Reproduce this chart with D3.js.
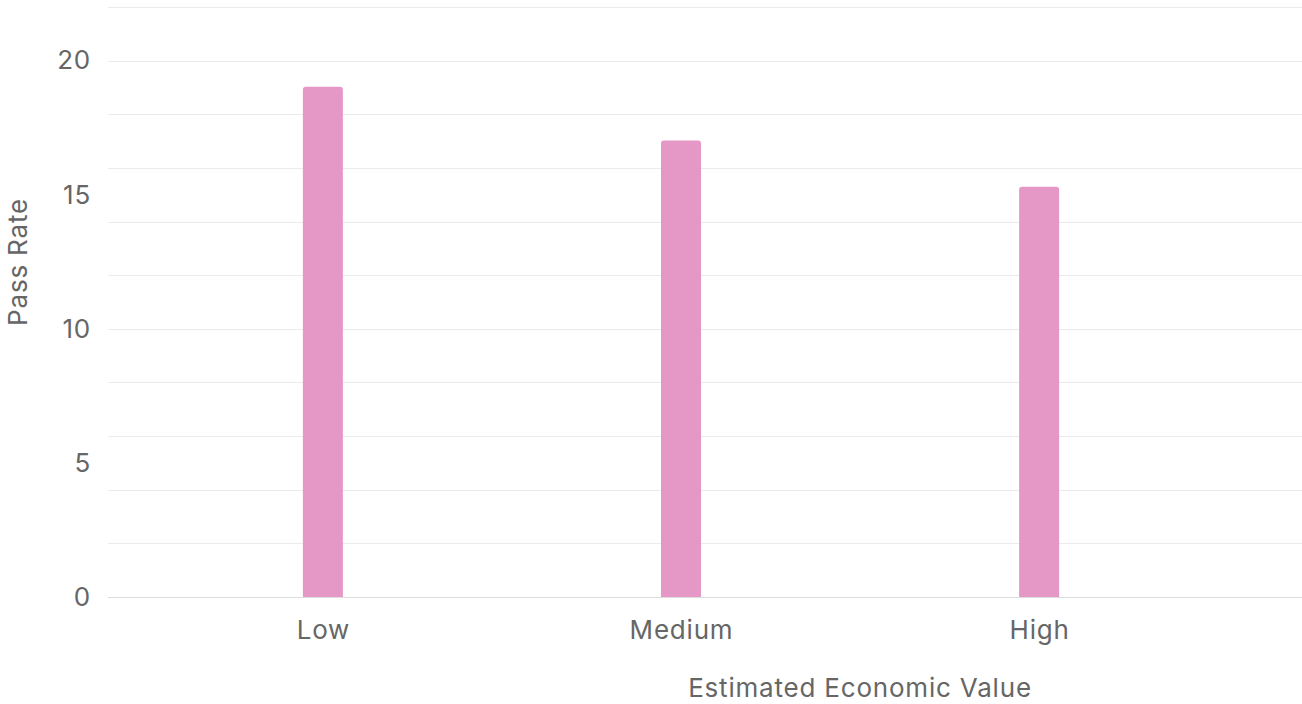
<!DOCTYPE html>
<html>
<head>
<meta charset="utf-8">
<script src="https://cdn.jsdelivr.net/npm/d3@7"></script>
<style>
  html, body { margin: 0; padding: 0; background: #fff; }
  svg { display: block; font-family: Inter, "Noto Sans", sans-serif; }
</style>
</head>
<body>
<svg id="chart" width="1302" height="704"></svg>
<script>
const categories = ["Low", "Medium", "High"];
const passRate = [19.03, 17.02, 15.3];
const yTickLabels = [0, 5, 10, 15, 20];
const yGridValues = [0, 2, 4, 6, 8, 10, 12, 14, 16, 18, 20, 22];
const xTitle = "Estimated Economic Value";
const yTitle = "Pass Rate";

const svg = d3.select("#chart");
const plotLeft = 108, plotRight = 1302, plotTop = 7, plotBottom = 597;

const y = d3.scaleLinear().domain([0, 22]).range([plotBottom, plotTop]);
const x = d3.scalePoint().domain(categories).range([plotLeft, 1254]).padding(0.6);
const barW = 40;
const textColor = "#666";
const fontSize = "26px";
const ls = "0.8px";

// gridlines
svg.append("g").selectAll("line")
  .data(yGridValues.filter(v => v !== 0))
  .join("line")
  .attr("x1", plotLeft).attr("x2", plotRight)
  .attr("y1", d => Math.round(y(d)) + 0.5).attr("y2", d => Math.round(y(d)) + 0.5)
  .attr("stroke", "#ebebeb").attr("stroke-width", 1);

// y axis labels
const yAxis = d3.axisLeft(y).tickValues(yTickLabels).tickSize(0).tickPadding(17);
const gy = svg.append("g").attr("transform", `translate(${plotLeft},0)`).call(yAxis);
gy.select(".domain").remove();
gy.selectAll("text").attr("fill", textColor).style("font-size", fontSize)
  .style("letter-spacing", ls).style("font-family", "Inter, sans-serif");

// bars with rounded top corners
const r = 3;
function barPath(cx, v) {
  const x0 = cx - barW / 2, x1 = cx + barW / 2, y0 = y(v), yb = y(0);
  return `M${x0},${yb}L${x0},${y0 + r}Q${x0},${y0} ${x0 + r},${y0}L${x1 - r},${y0}Q${x1},${y0} ${x1},${y0 + r}L${x1},${yb}Z`;
}
svg.append("g").selectAll("path")
  .data(categories.map((c, i) => ({ c, v: passRate[i] })))
  .join("path")
  .attr("d", d => barPath(x(d.c), d.v))
  .attr("fill", "#e597c6");

// zero line
svg.append("line")
  .attr("x1", plotLeft).attr("x2", plotRight)
  .attr("y1", y(0) + 0.5).attr("y2", y(0) + 0.5)
  .attr("stroke", "#dcdcdc").attr("stroke-width", 1.2);

// x axis labels
const xAxis = d3.axisBottom(x).tickSize(0).tickPadding(24);
const gx = svg.append("g").attr("transform", `translate(0,${plotBottom})`).call(xAxis);
gx.select(".domain").remove();
gx.selectAll("text").attr("fill", textColor).style("font-size", fontSize)
  .style("letter-spacing", ls).style("font-family", "Inter, sans-serif");

// titles
svg.append("text")
  .attr("x", 860).attr("y", 697)
  .attr("text-anchor", "middle")
  .attr("fill", textColor)
  .style("font-size", fontSize)
  .style("letter-spacing", ls)
  .text(xTitle);

svg.append("text")
  .attr("transform", "translate(27,262) rotate(-90)")
  .attr("text-anchor", "middle")
  .attr("fill", textColor)
  .style("font-size", fontSize)
  .style("letter-spacing", ls)
  .text(yTitle);
</script>
</body>
</html>
